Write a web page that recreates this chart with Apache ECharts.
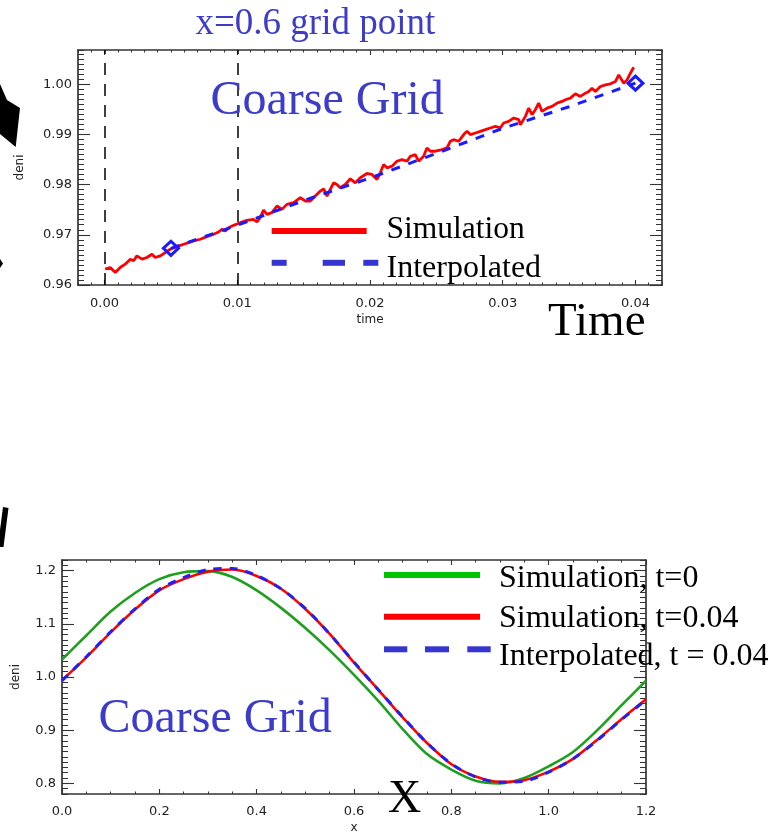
<!DOCTYPE html>
<html><head><meta charset="utf-8">
<script src="https://cdn.jsdelivr.net/npm/echarts@6/dist/echarts.min.js"></script>
<style>html,body{margin:0;padding:0;background:#fff}#c{width:771px;height:835px}</style>
</head><body><div id="c"></div>
<script>
// ---------- Top panel: deni at the x=0.6 grid point vs time ----------
const simTime = [0.00005,0.00043,0.00081,0.00118,0.00156,0.00194,0.00219,0.00244,0.00282,0.00319,0.00357,0.00382,0.00420,0.00457,0.00495,0.00545,0.00596,0.00633,0.00671,0.00721,0.00771,0.00822,0.00859,0.00884,0.00910,0.00935,0.00972,0.01023,0.01073,0.01123,0.01148,0.01173,0.01198,0.01224,0.01261,0.01299,0.01337,0.01374,0.01425,0.01475,0.01513,0.01550,0.01588,0.01626,0.01651,0.01676,0.01701,0.01726,0.01751,0.01776,0.01814,0.01852,0.01889,0.01927,0.01977,
 0.02015,0.02053,0.02078,0.02103,0.02128,0.02166,0.02203,0.02241,0.02279,0.02304,0.02341,0.02367,0.02404,0.02429,0.02455,0.02492,0.02543,0.02580,0.02605,0.02630,0.02668,0.02706,0.02731,0.02756,0.02794,0.02831,0.02869,0.02907,0.02945,0.02982,0.03007,0.03045,0.03083,0.03120,0.03133,0.03171,0.03196,0.03221,0.03246,0.03271,0.03296,0.03334,0.03372,0.03409,0.03447,0.03472,0.03510,0.03547,0.03585,0.03623,0.03648,0.03673,0.03698,0.03736,0.03774,0.03812,0.03849,0.03874,0.03912,0.03937,0.03962,0.03987];
const simDeni = [0.96315,0.96349,0.96249,0.96349,0.96415,0.96514,0.96481,0.96580,0.96514,0.96547,0.96613,0.96547,0.96580,0.96646,0.96712,0.96765,0.96812,0.96845,0.96878,0.96911,0.96964,0.97010,0.97056,0.97109,0.97076,0.97142,0.97188,0.97241,0.97288,0.97308,0.97255,0.97341,0.97493,0.97407,0.97440,0.97573,0.97506,0.97606,0.97639,0.97738,0.97672,0.97672,0.97771,0.97870,0.97916,0.97771,0.97903,0.98035,0.98002,0.97936,0.98002,0.98115,0.98035,0.98135,0.98221,
 0.98201,0.98101,0.98234,0.98399,0.98333,0.98366,0.98465,0.98498,0.98465,0.98564,0.98597,0.98465,0.98564,0.98730,0.98664,0.98664,0.98697,0.98730,0.98862,0.98895,0.98862,0.98995,0.99060,0.98995,0.99027,0.99060,0.99093,0.99127,0.99160,0.99127,0.99226,0.99259,0.99325,0.99292,0.99192,0.99358,0.99523,0.99391,0.99491,0.99623,0.99457,0.99523,0.99557,0.99623,0.99656,0.99689,0.99722,0.99808,0.99755,0.99821,0.99854,0.99920,0.99854,0.99953,0.99986,1.00006,1.00052,1.00185,1.00019,1.00085,1.00218,1.00337];
const interpTime = [0.005,0.010,0.015,0.020,0.025,0.030,0.035,0.040];
const interpDeni = [0.9673,0.9719,0.9768,0.9813,0.9862,0.9912,0.9955,1.0002];
const markerTimes = [0.005,0.040];
const refTimes = [0.00,0.01];
const topXTicks = [0.00,0.01,0.02,0.03,0.04];
const topYTicks = [0.96,0.97,0.98,0.99,1.00];

// ---------- Bottom panel: deni vs x ----------
const xPos = [0.00,0.05,0.10,0.15,0.20,0.25,0.30,0.35,0.40,0.45,0.50,0.55,0.60,0.65,0.70,0.75,0.80,0.85,0.90,0.95,1.00,1.05,1.10,1.15,1.20];
const simT0   = [1.033,1.078,1.123,1.158,1.184,1.197,1.199,1.188,1.163,1.130,1.092,1.050,1.004,0.955,0.902,0.855,0.826,0.805,0.800,0.810,0.832,0.859,0.900,0.947,0.993];
const simT004 = [0.994,1.037,1.084,1.127,1.163,1.184,1.198,1.202,1.190,1.166,1.128,1.081,1.027,0.976,0.924,0.876,0.836,0.813,0.803,0.806,0.822,0.846,0.882,0.921,0.958];
const intT004 = [0.993,1.038,1.085,1.128,1.165,1.187,1.202,1.204,1.191,1.166,1.129,1.081,1.028,0.976,0.925,0.876,0.837,0.812,0.802,0.804,0.821,0.846,0.881,0.920,0.957];
const botYTicks = [0.8,0.9,1.0,1.1,1.2];

const zip = (a,b) => a.map((v,i)=>[v,b[i]]);
const AX = '#333';
const tickFont = {fontFamily:'DejaVu Sans', fontSize:13, color:'#222'};
function ax(o){
  return Object.assign({
    type:'value', splitLine:{show:false},
    axisLine:{show:true, onZero:false, lineStyle:{color:AX, width:1.7}},
    axisTick:{show:true, inside:true, lineStyle:{color:AX, width:1.1}},
    axisLabel:{show:false}
  }, o);
}
function minor(o, len){
  return ax(Object.assign({axisLine:{show:false, onZero:false}, axisTick:{show:true, inside:true, length:len, lineStyle:{color:AX, width:1}}}, o));
}

const xAxis = [
  ax({gridIndex:0, position:'bottom', min:-0.002, max:0.042,
      axisTick:{show:true, inside:true, length:5, customValues:topXTicks, lineStyle:{color:AX,width:1.1}},
      axisLabel:Object.assign({show:true, customValues:topXTicks, margin:12, formatter:v=>v.toFixed(2)}, tickFont),
      name:'time', nameLocation:'middle', nameGap:29, nameTextStyle:{fontFamily:'DejaVu Sans', fontSize:12, color:'#222'}}),
  minor({gridIndex:0, position:'bottom', min:-0.002, max:0.042, interval:0.001}, 2.5),
  ax({gridIndex:0, position:'top', min:-0.002, max:0.042,
      axisTick:{show:true, inside:true, length:5, customValues:topXTicks, lineStyle:{color:AX,width:1.1}}}),
  minor({gridIndex:0, position:'top', min:-0.002, max:0.042, interval:0.001}, 2.5),
  ax({gridIndex:1, position:'bottom', min:0, max:1.2, interval:0.2,
      axisTick:{show:true, inside:true, length:5, lineStyle:{color:AX,width:1.1}},
      minorTick:{show:true, splitNumber:4, length:2.5, lineStyle:{color:AX,width:1}},
      axisLabel:Object.assign({show:true, margin:11, formatter:v=>v.toFixed(1)}, tickFont),
      name:'x', nameLocation:'middle', nameGap:28, nameTextStyle:{fontFamily:'DejaVu Sans', fontSize:12, color:'#222'}}),
  ax({gridIndex:1, position:'top', min:0, max:1.2, interval:0.2,
      axisTick:{show:true, inside:true, length:5, lineStyle:{color:AX,width:1.1}},
      minorTick:{show:true, splitNumber:4, length:2.5, lineStyle:{color:AX,width:1}}})
];
const yAxis = [
  ax({gridIndex:0, position:'left', min:0.96, max:1.0068,
      axisTick:{show:true, inside:true, length:12, customValues:topYTicks, lineStyle:{color:AX,width:1.1}},
      axisLabel:Object.assign({show:true, customValues:topYTicks, margin:6, formatter:v=>v.toFixed(2)}, tickFont),
      name:'deni', nameLocation:'middle', nameRotate:90, nameGap:52, nameTextStyle:{fontFamily:'DejaVu Sans', fontSize:12, color:'#222'}}),
  minor({gridIndex:0, position:'left', min:0.96, max:1.0068, interval:0.001}, 6),
  ax({gridIndex:0, position:'right', min:0.96, max:1.0068,
      axisTick:{show:true, inside:true, length:12, customValues:topYTicks, lineStyle:{color:AX,width:1.1}}}),
  minor({gridIndex:0, position:'right', min:0.96, max:1.0068, interval:0.001}, 6),
  ax({gridIndex:1, position:'left', min:0.78, max:1.22,
      axisTick:{show:true, inside:true, length:12, customValues:botYTicks, lineStyle:{color:AX,width:1.1}},
      axisLabel:Object.assign({show:true, customValues:botYTicks, margin:6, formatter:v=>v.toFixed(1)}, tickFont),
      name:'deni', nameLocation:'middle', nameRotate:90, nameGap:40, nameTextStyle:{fontFamily:'DejaVu Sans', fontSize:12, color:'#222'}}),
  minor({gridIndex:1, position:'left', min:0.78, max:1.22, interval:0.01}, 6),
  ax({gridIndex:1, position:'right', min:0.78, max:1.22,
      axisTick:{show:true, inside:true, length:12, customValues:botYTicks, lineStyle:{color:AX,width:1.1}}}),
  minor({gridIndex:1, position:'right', min:0.78, max:1.22, interval:0.01}, 6)
];

const BLUE_TXT = '#3c3cc8';
const SERIF = 'Liberation Serif';
// place text by its baseline
function txt(text, x, base, size, color){
  return {type:'text', z:100, style:{text, x, y: base - 0.265*size, font: size+'px "'+SERIF+'"', fill:color, textVerticalAlign:'middle', verticalAlign:'middle'}};
}
function seg(x1,y1,x2,y2,color,w){
  return {type:'line', z:90, shape:{x1,y1,x2,y2}, style:{stroke:color, lineWidth:w}};
}
const graphic = [
  txt('x=0.6 grid point', 195.5, 34.3, 37, BLUE_TXT),
  txt('Coarse Grid', 210.5, 114, 48, BLUE_TXT),
  txt('Coarse Grid', 98.5, 731.7, 48, BLUE_TXT),
  txt('Time', 548, 335, 47, '#000'),
  txt('X', 388, 811.7, 46, '#000'),
  // top legend
  seg(271.7,231,366.7,231,'#ff0000',6),
  seg(271.7,262.8,286.7,262.8,'#3535d0',6),
  seg(322.7,262.8,345,262.8,'#3535d0',6),
  seg(363.3,262.8,378.3,262.8,'#3535d0',6),
  txt('Simulation', 386.5, 238.3, 31.5, '#000'),
  txt('Interpolated', 386.5, 277.3, 32, '#000'),
  // bottom legend
  seg(384,575,480,575,'#00c400',6),
  seg(384,616.7,480,616.7,'#ff0000',6),
  seg(384,649.3,407.3,649.3,'#3535d0',6),
  seg(425,649.3,449,649.3,'#3535d0',6),
  seg(467.3,649.3,490.7,649.3,'#3535d0',6),
  txt('Simulation, t=0', 499, 587.3, 32, '#000'),
  txt('Simulation, t=0.04', 499, 626.7, 32, '#000'),
  txt('Interpolated, t = 0.04', 499, 665, 32, '#000'),
  // arrow fragments from the slide at the left edge
  {type:'polygon', z:80, shape:{points:[[0,84],[7,100],[20,108],[15.7,147],[0,134]]}, style:{fill:'#000'}},
  {type:'polygon', z:80, shape:{points:[[0,259],[3,263.5],[0,268]]}, style:{fill:'#000'}},
  {type:'polygon', z:80, shape:{points:[[3,507],[8.5,508],[3.5,547],[0,547],[0,530]]}, style:{fill:'#000'}}
];

const option = {
  animation:false,
  backgroundColor:'#fff',
  grid:[{left:78, top:50, width:584, height:235}, {left:62, top:560, width:584, height:234}],
  xAxis, yAxis, graphic,
  series:[
    {type:'line', name:'Simulation', xAxisIndex:0, yAxisIndex:0, data:zip(simTime,simDeni), symbol:'none',
     lineStyle:{color:'#ff0000', width:2.8}, z:3,
     markLine:{silent:true, symbol:['none','none'], label:{show:false},
       lineStyle:{color:'#000', type:[12,9], width:1.5}, data:refTimes.map(v=>({xAxis:v}))}},
    {type:'line', name:'Interpolated', xAxisIndex:0, yAxisIndex:0,
     data:interpTime.map((t,i)=>({value:[t,interpDeni[i]], symbol: markerTimes.includes(t)?'diamond':'none'})),
     symbol:'none', showSymbol:true, symbolSize:[15,14],
     itemStyle:{color:'rgba(0,0,0,0)', borderColor:'#1a1aff', borderWidth:3},
     lineStyle:{color:'#1a1aff', width:3, type:[9,9]}, z:4},
    {type:'line', name:'Simulation, t=0', xAxisIndex:4, yAxisIndex:4, data:zip(xPos,simT0), symbol:'none', smooth:0.3,
     lineStyle:{color:'#1ea01e', width:2.6}, z:3},
    {type:'line', name:'Simulation, t=0.04', xAxisIndex:4, yAxisIndex:4, data:zip(xPos,simT004), symbol:'none', smooth:0.3,
     lineStyle:{color:'#ff0000', width:2.6}, z:4},
    {type:'line', name:'Interpolated, t = 0.04', xAxisIndex:4, yAxisIndex:4, data:zip(xPos,intT004), symbol:'none', smooth:0.3,
     lineStyle:{color:'#2020f0', width:3, type:[8,8]}, z:5}
  ]
};
const chart = echarts.init(document.getElementById('c'), null, {renderer:'canvas'});
chart.setOption(option);
</script>
</body></html>
